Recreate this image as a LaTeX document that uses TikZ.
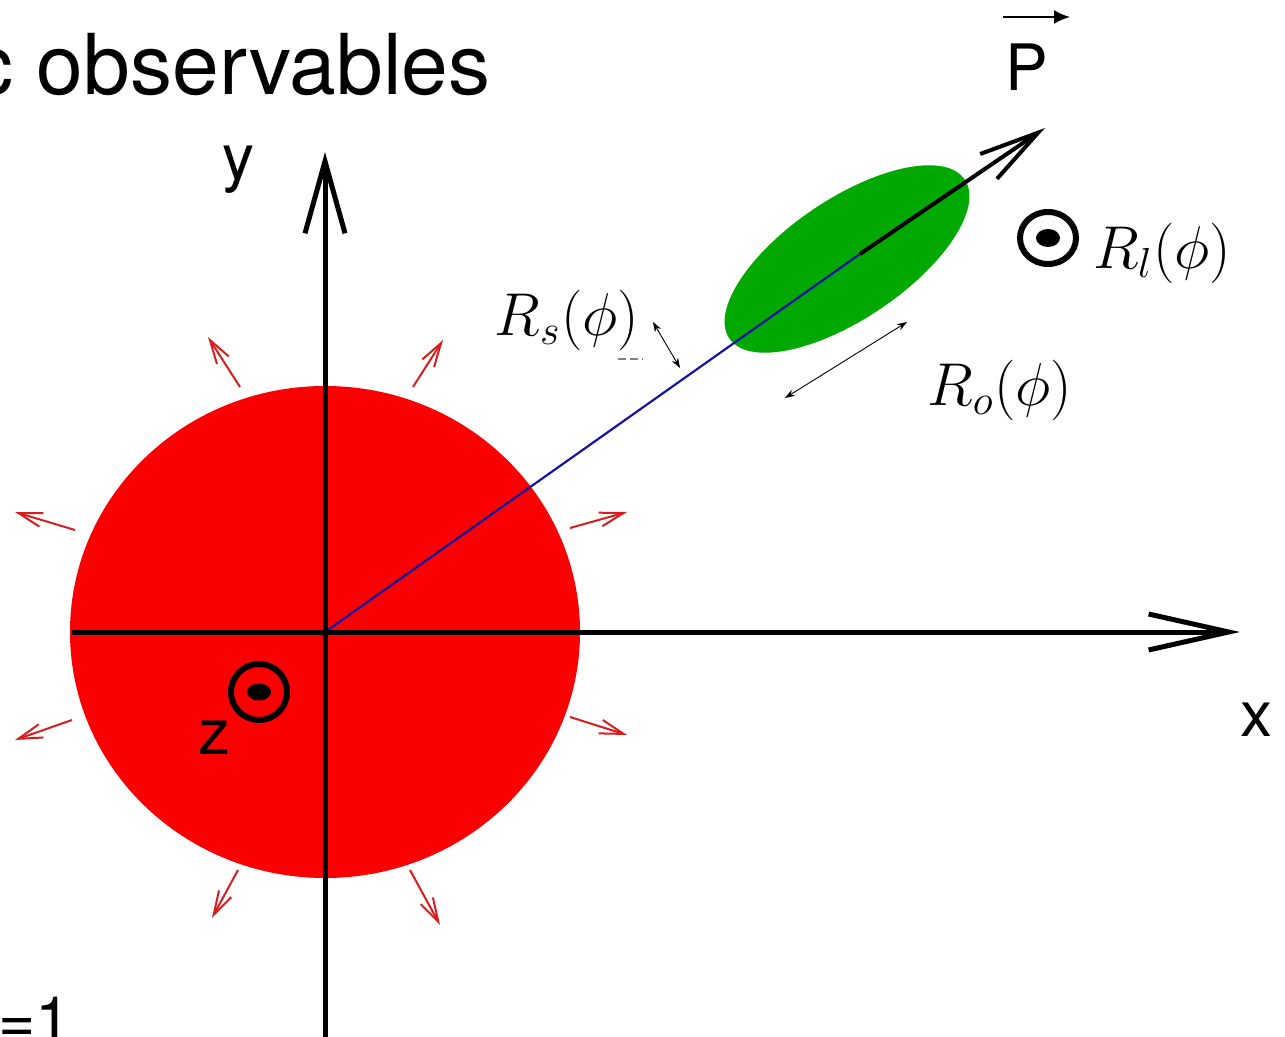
\documentclass[tikz,border=0pt]{standalone}
\usepackage{fontspec}
\setmainfont{TeX Gyre Heros}
\usetikzlibrary{arrows.meta}
\definecolor{ballred}{RGB}{250,0,0}
\definecolor{arrred}{RGB}{215,30,30}
\definecolor{blobgreen}{RGB}{0,168,0}
\definecolor{rayblue}{RGB}{20,20,160}
\begin{document}
\begin{tikzpicture}[x=0.5pt,y=-0.5pt,
  axisline/.style={line width=2.5pt},
  lbl/.style={inner sep=0pt, font=\fontsize{32}{38}\selectfont},
  mathlbl/.style={inner sep=0pt, font=\LARGE, scale=1.75},
  outarrow/.style={arrred, line width=1pt, -{Straight Barb[length=12pt,width=7pt,line width=1pt]}},
  twoway/.style={line width=0.45pt, {Stealth[length=5pt,width=3.5pt]}-{Stealth[length=5pt,width=3.5pt]}},
  circdot/.style={line width=3pt}]
\useasboundingbox (0,0) rectangle (1285,1037);
\clip (0,0) rectangle (1285,1037);
\fill[white] (0,0) rectangle (1285,1037);

% coordinates
\coordinate (O) at (325,632);
\coordinate (xL) at (72,632);
\coordinate (xR) at (1240,632);
\coordinate (yB) at (325,1040);
\coordinate (yT) at (325,152);
\coordinate (Pstart) at (860,254);
\coordinate (Ptip) at (1045,128);

% fireball
\fill[ballred] (O) ellipse [x radius=255, y radius=246];

% outward arrows
\coordinate (a1s) at (240,387); \coordinate (a1e) at (208,337);
\coordinate (a2s) at (413,387); \coordinate (a2e) at (443,340);
\coordinate (a3s) at (75,530);  \coordinate (a3e) at (15,512);
\coordinate (a4s) at (570,528); \coordinate (a4e) at (627,512);
\coordinate (a5s) at (72,720);  \coordinate (a5e) at (15,740);
\coordinate (a6s) at (570,717); \coordinate (a6e) at (627,735);
\coordinate (a7s) at (238,870); \coordinate (a7e) at (212,918);
\coordinate (a8s) at (410,870); \coordinate (a8e) at (440,925);
\foreach \i in {1,...,8} { \draw[outarrow] (a\i s) -- (a\i e); }

% green emission region
\fill[blobgreen, rotate around={34:(847,259)}] (847,259) ellipse [x radius=142, y radius=60];

% ray and pair momentum
\draw[rayblue, line width=1.1pt] (O) -- (Pstart);
\draw[line width=2pt, -{Straight Barb[length=30pt,width=15pt,line width=2pt]}] (Pstart) -- (Ptip);

% axes
\draw[axisline, -{Straight Barb[length=40pt,width=18pt,line width=2.5pt]}] (xL) -- (xR);
\draw[axisline, -{Straight Barb[length=36pt,width=20pt,line width=2.5pt]}] (yB) -- (yT);

% axis labels
\node[lbl] (ylab) at (238,170) {y};
\node[lbl] (xlab) at (1256,720) {x};
\node[lbl] (zlab) at (214,738) {z};
\node[lbl] (Plab) at (1027,67) {P};
\coordinate (Parrs) at (1003,17);
\coordinate (Parre) at (1070,17);
\draw[line width=1pt, -{Latex[length=8pt,width=7pt]}] (Parrs) -- (Parre);

% out-of-plane symbols
\coordinate (zc) at (259,692);
\draw[circdot] (zc) circle [radius=28];
\fill (zc) ellipse [x radius=12, y radius=8.5];
\coordinate (lc) at (1048,238);
\draw[circdot] (lc) ellipse [x radius=28, y radius=26];
\fill (lc) ellipse [x radius=12, y radius=9];

% radii labels
\node[mathlbl] (Rs) at (567,320) {$R_s(\phi)$};
\node[mathlbl] (Rl) at (1162,253) {$R_l(\phi)$};
\node[mathlbl] (Ro) at (1000,390) {$R_o(\phi)$};
\coordinate (rs1) at (653,322); \coordinate (rs2) at (680,368);
\draw[twoway] (rs1) -- (rs2);
\coordinate (ro1) at (785,398); \coordinate (ro2) at (907,322);
\draw[twoway] (ro1) -- (ro2);
\coordinate (d1) at (618,359); \coordinate (d2) at (643,359);
\draw[gray, line width=0.6pt, dash pattern=on 4pt off 2pt] (d1) -- (d2);

% cut-off slide text (cut at the edge as in the reference)
\node[anchor=base east, inner sep=0pt, font=\fontsize{42}{48}\selectfont] (title) at (491,95) {c observables};
\node[anchor=base west, inner sep=0pt, font=\fontsize{32}{38}\selectfont] (eq) at (-2,1042) {=1};
\end{tikzpicture}
\end{document}
